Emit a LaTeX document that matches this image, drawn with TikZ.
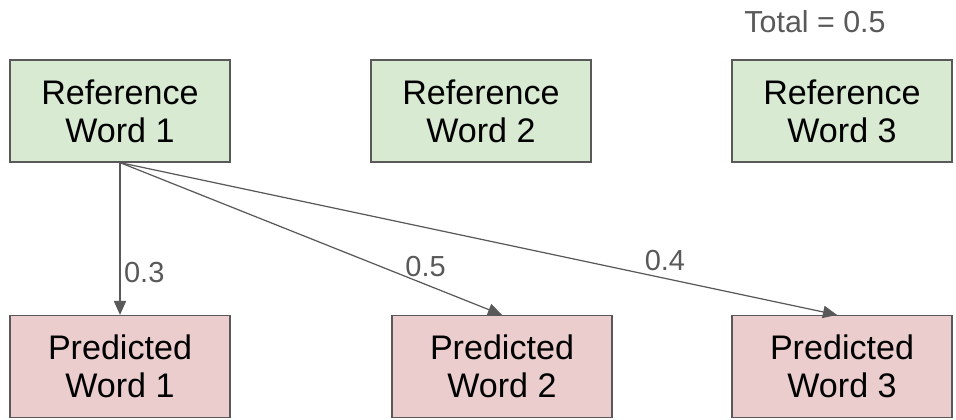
\documentclass[tikz,border=0pt]{standalone}
\usepackage{fontspec}
\setmainfont{Liberation Sans}
\usepackage{xcolor}
\usetikzlibrary{arrows.meta}

\definecolor{refgreen}{HTML}{D9EAD3}
\definecolor{predred}{HTML}{EBCDCD}
\definecolor{linegray}{HTML}{595959}

\tikzset{
  wordbox/.style={draw=linegray, line width=0.7pt, minimum width=4.4cm, minimum height=2.04cm,
    align=center, inner sep=0pt, font=\fontsize{19.4}{21.6}\selectfont},
  refbox/.style={wordbox, fill=refgreen},
  predbox/.style={wordbox, fill=predred},
  arr/.style={draw=linegray, line width=0.7pt, -{Triangle[length=8pt,width=7pt]}},
  lbl/.style={text=linegray, font=\fontsize{16.5}{19}\selectfont, inner sep=2pt}
}

\begin{document}
\begin{tikzpicture}[x=0.02cm, y=-0.02cm]
    \useasboundingbox (0,0) rectangle (956,419);

    % Reference words
    \node[refbox] (ref1) at (120,111) {Reference\\Word 1};
    \node[refbox] (ref2) at (481,111) {Reference\\Word 2};
    \node[refbox] (ref3) at (842,111) {Reference\\Word 3};

    % Predicted words
    \node[predbox] (pred1) at (120,366.5) {Predicted\\Word 1};
    \node[predbox] (pred2) at (502,366.5) {Predicted\\Word 2};
    \node[predbox] (pred3) at (842,366.5) {Predicted\\Word 3};

    % Total
    \node[lbl, font=\fontsize{17.3}{20}\selectfont] (total) at (815,22) {Total = 0.5};

    % Scores
    \draw[arr] (ref1.south) -- node[lbl, pos=0.72, anchor=west] (s1) {0.3} (pred1.north);
    \draw[arr] (ref1.south) -- node[lbl, pos=0.8, anchor=south, yshift=2pt] (s2) {0.5} (pred2.north);
    \draw[arr] (ref1.south) -- node[lbl, pos=0.76, anchor=south, yshift=2pt] (s3) {0.4} ([xshift=-0.1cm]pred3.north);

\end{tikzpicture}
\end{document}
